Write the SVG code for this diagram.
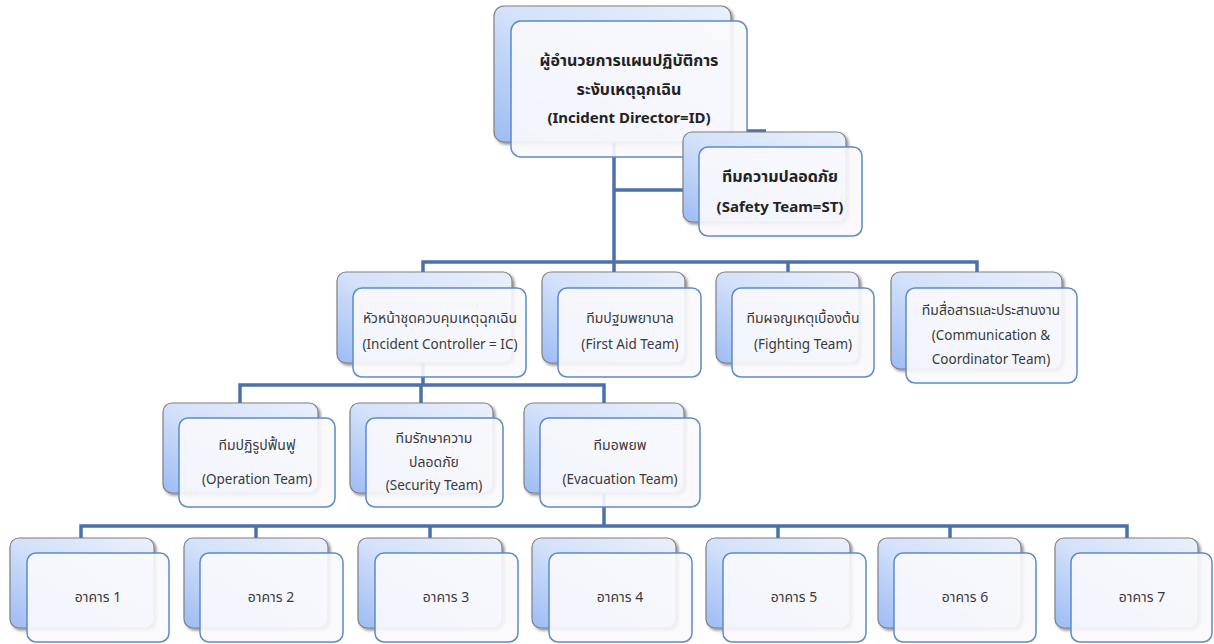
<svg xmlns="http://www.w3.org/2000/svg" width="1214" height="644" viewBox="0 0 1214 644">
<style>
.back{fill:url(#bg);stroke:#808080;stroke-width:1.2;filter:url(#sh)}
.front{fill:#f9fafd;fill-opacity:0.9;stroke:#5b8bc9;stroke-width:1.5}
.t{font-family:"Noto Sans","Noto Sans Thai","Open Sans",sans-serif;font-size:13.5px;fill:#3a3a3a;text-anchor:middle}
.th{font-size:14px}
.tb{font-family:"Noto Sans","Noto Sans Thai","Open Sans",sans-serif;font-size:15px;font-weight:bold;fill:#222;text-anchor:middle}
.tbh{font-size:16px}
.c{fill:none;stroke:#4a72a8;stroke-width:3.5}
</style>
<defs>
<linearGradient id="bg" x1="1" y1="0" x2="0" y2="1">
<stop offset="0" stop-color="#eaf0fc"/>
<stop offset="0.5" stop-color="#d3e1fa"/>
<stop offset="1" stop-color="#9dbcf4"/>
</linearGradient>
<filter id="sh" x="-10%" y="-10%" width="125%" height="130%">
<feDropShadow dx="2" dy="2" stdDeviation="1.5" flood-color="#000" flood-opacity="0.45"/>
</filter>
</defs>
<g id="connectors">
<path class="c" d="M614 142V262M614 190H683M747 131H766"/>
<path class="c" d="M423 273V262H977V273M614 262V273M788 262V273"/>
<path class="c" d="M423 363V385M240 403V385H604V403M421 385V403"/>
<path class="c" d="M604 493V526M81 538V526H1127V538M256 526V538M430 526V538M778 526V538M950 526V538"/>
</g>
<g id="n-director">
<rect class="back" x="494" y="6" width="237" height="136" rx="10"/>
<rect class="front" x="511" y="21" width="236" height="136" rx="10"/>
<text class="tb tbh" x="629" y="66">ผู้อำนวยการแผนปฏิบัติการ</text>
<text class="tb tbh" x="629" y="95">ระงับเหตุฉุกเฉิน</text>
<text class="tb" x="629" y="123">(Incident Director=ID)</text>
</g>
<g id="n-safety">
<rect class="back" x="683" y="132" width="163" height="90" rx="9"/>
<rect class="front" x="699" y="147" width="163" height="89" rx="9"/>
<text class="tb tbh" x="780" y="182">ทีมความปลอดภัย</text>
<text class="tb" x="780" y="212">(Safety Team=ST)</text>
</g>
<g id="n-ic">
<rect class="back" x="337" y="272" width="175" height="91" rx="9"/>
<rect class="front" x="353" y="288" width="173" height="89" rx="9"/>
<text class="t th" x="440" y="323">หัวหน้าชุดควบคุมเหตุฉุกเฉิน</text>
<text class="t" x="440" y="349">(Incident Controller = IC)</text>
</g>
<g id="n-firstaid">
<rect class="back" x="542" y="272" width="143" height="91" rx="9"/>
<rect class="front" x="558" y="288" width="143" height="89" rx="9"/>
<text class="t th" x="630" y="323">ทีมปฐมพยาบาล</text>
<text class="t" x="630" y="349">(First Aid Team)</text>
</g>
<g id="n-fighting">
<rect class="back" x="716" y="272" width="143" height="91" rx="9"/>
<rect class="front" x="732" y="288" width="142" height="89" rx="9"/>
<text class="t th" x="803" y="323">ทีมผจญเหตุเบื้องต้น</text>
<text class="t" x="803" y="349">(Fighting Team)</text>
</g>
<g id="n-comm">
<rect class="back" x="891" y="272" width="171" height="97" rx="9"/>
<rect class="front" x="906" y="288" width="171" height="95" rx="9"/>
<text class="t th" x="991" y="315">ทีมสื่อสารและประสานงาน</text>
<text class="t" x="991" y="340">(Communication &amp;</text>
<text class="t" x="991" y="364">Coordinator Team)</text>
</g>
<g id="n-operation">
<rect class="back" x="163" y="403" width="155" height="90" rx="9"/>
<rect class="front" x="179" y="418" width="156" height="89" rx="9"/>
<text class="t th" x="257" y="450">ทีมปฏิรูปฟื้นฟู</text>
<text class="t" x="257" y="484">(Operation Team)</text>
</g>
<g id="n-security">
<rect class="back" x="350" y="403" width="143" height="90" rx="9"/>
<rect class="front" x="366" y="418" width="137" height="89" rx="9"/>
<text class="t th" x="434" y="443">ทีมรักษาความ</text>
<text class="t th" x="434" y="467">ปลอดภัย</text>
<text class="t" x="434" y="490">(Security Team)</text>
</g>
<g id="n-evac">
<rect class="back" x="524" y="403" width="160" height="90" rx="9"/>
<rect class="front" x="540" y="418" width="160" height="89" rx="9"/>
<text class="t th" x="620" y="450">ทีมอพยพ</text>
<text class="t" x="620" y="484">(Evacuation Team)</text>
</g>
<g id="n-b1">
<rect class="back" x="10" y="538" width="144" height="90" rx="9"/>
<rect class="front" x="27" y="553" width="142" height="89" rx="9"/>
<text class="t th" x="98" y="602">อาคาร 1</text>
</g>
<g id="n-b2">
<rect class="back" x="184" y="538" width="144" height="90" rx="9"/>
<rect class="front" x="200" y="553" width="143" height="89" rx="9"/>
<text class="t th" x="271" y="602">อาคาร 2</text>
</g>
<g id="n-b3">
<rect class="back" x="358" y="538" width="144" height="90" rx="9"/>
<rect class="front" x="375" y="553" width="143" height="89" rx="9"/>
<text class="t th" x="446" y="602">อาคาร 3</text>
</g>
<g id="n-b4">
<rect class="back" x="532" y="538" width="144" height="90" rx="9"/>
<rect class="front" x="549" y="553" width="143" height="89" rx="9"/>
<text class="t th" x="620" y="602">อาคาร 4</text>
</g>
<g id="n-b5">
<rect class="back" x="706" y="538" width="144" height="90" rx="9"/>
<rect class="front" x="723" y="553" width="143" height="89" rx="9"/>
<text class="t th" x="794" y="602">อาคาร 5</text>
</g>
<g id="n-b6">
<rect class="back" x="878" y="538" width="143" height="90" rx="9"/>
<rect class="front" x="894" y="553" width="142" height="89" rx="9"/>
<text class="t th" x="965" y="602">อาคาร 6</text>
</g>
<g id="n-b7">
<rect class="back" x="1055" y="538" width="143" height="90" rx="9"/>
<rect class="front" x="1071" y="553" width="141" height="89" rx="9"/>
<text class="t th" x="1142" y="602">อาคาร 7</text>
</g>
</svg>
